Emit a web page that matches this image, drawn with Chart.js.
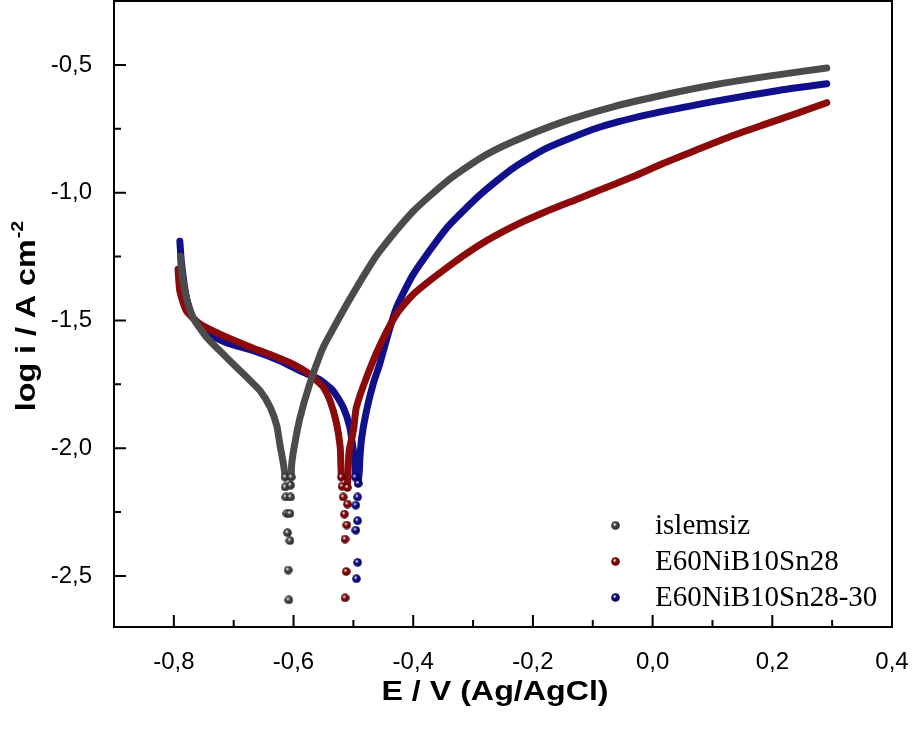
<!DOCTYPE html>
<html>
<head>
<meta charset="utf-8">
<script src="https://cdn.jsdelivr.net/npm/chart.js@4.4.0/dist/chart.umd.min.js"></script>
<style>
  html, body { margin: 0; padding: 0; background: #fff; }
</style>
</head>
<body>
<canvas id="tafel" width="915" height="729"></canvas>
<script>
// series names and colours
var series_names = ['islemsiz', 'E60NiB10Sn28', 'E60NiB10Sn28-30'];
var series_colors = ['#4b4b4b', '#8c0a0a', '#10108c'];
var series_dark = ['#222222', '#4a0000', '#000050'];

// tick labels
var x_ticks = [-0.8, -0.6, -0.4, -0.2, 0.0, 0.2, 0.4];
var x_minor = [-0.7, -0.5, -0.3, -0.1, 0.1, 0.3];
var y_ticks = [-2.5, -2.0, -1.5, -1.0, -0.5];
var y_minor = [-2.25, -1.75, -1.25, -0.75];

// islemsiz
var islemsiz_E = [-0.789, -0.787, -0.779, -0.768, -0.745, -0.712, -0.678, -0.656, -0.639, -0.628, -0.623, -0.617, -0.614,
  -0.614, -0.613, -0.611, -0.610, -0.609, -0.608, -0.606, -0.606, -0.605, -0.605,
  -0.604, -0.603, -0.598, -0.589, -0.573, -0.553, -0.545, -0.511, -0.478, -0.456, -0.400, -0.344, -0.288, -0.233,
  -0.149, -0.066, 0.018, 0.101, 0.185, 0.291];
var islemsiz_logi = [-1.249, -1.307, -1.411, -1.489, -1.567, -1.645, -1.723, -1.775, -1.840, -1.912, -1.983, -2.061, -2.113,
  -2.152, -2.191, -2.256, -2.331, -2.477, -2.594, -2.362, -2.256, -2.191, -2.145,
  -2.113, -2.061, -1.983, -1.879, -1.749, -1.619, -1.580, -1.437, -1.307, -1.229, -1.073, -0.956, -0.865, -0.800,
  -0.722, -0.664, -0.618, -0.579, -0.547, -0.512];

// E60NiB10Sn28
var sn28_E = [-0.793, -0.790, -0.779, -0.756, -0.723, -0.678, -0.656, -0.634, -0.601, -0.573, -0.561, -0.550, -0.539, -0.528, -0.522, -0.521, -0.520,
  -0.519, -0.517, -0.515, -0.514, -0.514, -0.512, -0.511, -0.510, -0.510,
  -0.509, -0.507, -0.500, -0.495, -0.478, -0.456, -0.428, -0.400, -0.344, -0.288, -0.233, -0.177, -0.121, -0.066,
  -0.032, 0.018, 0.073, 0.129, 0.185, 0.241, 0.291];
var sn28_logi = [-1.300, -1.385, -1.463, -1.515, -1.554, -1.599, -1.619, -1.638, -1.671, -1.710, -1.736, -1.762, -1.814, -1.905, -1.996, -2.061, -2.113,
  -2.149, -2.191, -2.258, -2.356, -2.586, -2.483, -2.301, -2.219, -2.154,
  -2.087, -2.009, -1.931, -1.840, -1.723, -1.599, -1.476, -1.398, -1.294, -1.203, -1.132, -1.073, -1.021, -0.969,
  -0.937, -0.885, -0.833, -0.781, -0.735, -0.690, -0.648];

// E60NiB10Sn28-30
var sn28_30_E = [-0.790, -0.787, -0.779, -0.768, -0.740, -0.712, -0.667, -0.623, -0.589, -0.556, -0.534, -0.517, -0.506, -0.500, -0.497,
  -0.497, -0.496, -0.496, -0.495, -0.493, -0.493, -0.493, -0.492,
  -0.490, -0.489, -0.486, -0.478, -0.467, -0.456, -0.442, -0.428, -0.400, -0.344, -0.288, -0.233, -0.177, -0.094,
  -0.010, 0.101, 0.213, 0.291];
var sn28_30_logi = [-1.190, -1.281, -1.411, -1.489, -1.554, -1.587, -1.619, -1.658, -1.697, -1.732, -1.775, -1.840, -1.918, -2.009, -2.074,
  -2.113, -2.223, -2.321, -2.511, -2.447, -2.284, -2.191, -2.138,
  -2.087, -2.035, -1.957, -1.853, -1.749, -1.671, -1.554, -1.450, -1.320, -1.138, -1.008, -0.904, -0.826, -0.748,
  -0.696, -0.644, -0.599, -0.574];

var series_E = [islemsiz_E, sn28_E, sn28_30_E];
var series_logi = [islemsiz_logi, sn28_logi, sn28_30_logi];

var TAIL = -2.1;

function fmt(v) {
  return v.toFixed(1).replace('.', ',');
}

// small shaded ball used as marker
function sphere(color, dark) {
  var c = document.createElement('canvas');
  c.width = 9; c.height = 9;
  var g = c.getContext('2d');
  var grd = g.createRadialGradient(3.4, 3.1, 0.2, 4.5, 4.5, 4.4);
  grd.addColorStop(0, '#ffffff');
  grd.addColorStop(0.4, color);
  grd.addColorStop(1, dark);
  g.fillStyle = grd;
  g.beginPath();
  g.arc(4.5, 4.5, 4.3, 0, Math.PI * 2);
  g.fill();
  return c;
}

var balls = series_colors.map(function (c, i) { return sphere(c, series_dark[i]); });

var datasets = series_names.map(function (name, i) {
  return {
    label: name,
    data: series_E[i].map(function (e, j) { return { x: e, y: series_logi[i][j] }; }),
    showLine: true,
    borderColor: series_colors[i],
    backgroundColor: series_colors[i],
    borderWidth: 7,
    borderCapStyle: 'round',
    borderJoinStyle: 'round',
    tension: 0.2,
    pointStyle: balls[i],
    pointRadius: function (ctx) { return ctx.raw && ctx.raw.y < TAIL ? 4 : 0; },
    pointHoverRadius: 0,
    segment: {
      borderColor: function (ctx) {
        return (ctx.p0.parsed.y < TAIL && ctx.p1.parsed.y < TAIL) ? 'rgba(0,0,0,0)' : undefined;
      }
    }
  };
});

var frameAndText = {
  id: 'frameAndText',
  afterDraw: function (chart) {
    var ctx = chart.ctx;
    var a = chart.chartArea;
    var xs = chart.scales.x, ys = chart.scales.y;
    ctx.save();
    ctx.strokeStyle = '#000';
    ctx.lineWidth = 2;
    ctx.strokeRect(a.left, a.top, a.right - a.left, a.bottom - a.top);
    ctx.beginPath();
    x_ticks.forEach(function (v) {
      var p = xs.getPixelForValue(v);
      ctx.moveTo(p, a.bottom); ctx.lineTo(p, a.bottom - 12);
    });
    x_minor.forEach(function (v) {
      var p = xs.getPixelForValue(v);
      ctx.moveTo(p, a.bottom); ctx.lineTo(p, a.bottom - 7);
    });
    y_ticks.forEach(function (v) {
      var p = ys.getPixelForValue(v);
      ctx.moveTo(a.left, p); ctx.lineTo(a.left + 12, p);
    });
    y_minor.forEach(function (v) {
      var p = ys.getPixelForValue(v);
      ctx.moveTo(a.left, p); ctx.lineTo(a.left + 7, p);
    });
    ctx.stroke();

    // legend
    var ly = [525, 561, 597];
    ctx.fillStyle = '#000';
    ctx.font = '29px "Liberation Serif", "Times New Roman", serif';
    ctx.textBaseline = 'middle';
    ctx.textAlign = 'left';
    chart.data.datasets.forEach(function (ds, i) {
      ctx.drawImage(balls[i], 611, ly[i] - 4);
      ctx.fillText(ds.label, 655, ly[i] + 1);
    });

    // x title
    ctx.save();
    ctx.translate(495, 700);
    ctx.scale(1.15, 1);
    ctx.font = 'bold 28px "Liberation Sans", Arial, sans-serif';
    ctx.textAlign = 'center';
    ctx.textBaseline = 'alphabetic';
    ctx.fillText('E / V (Ag/AgCl)', 0, 0);
    ctx.restore();

    // y title with superscript
    ctx.save();
    ctx.translate(35, 316);
    ctx.rotate(-Math.PI / 2);
    ctx.scale(1.15, 1);
    ctx.textAlign = 'left';
    ctx.textBaseline = 'alphabetic';
    var main = 'log i / A cm', sup = '-2';
    ctx.font = 'bold 28px "Liberation Sans", Arial, sans-serif';
    var w1 = ctx.measureText(main).width;
    ctx.font = 'bold 17px "Liberation Sans", Arial, sans-serif';
    var w2 = ctx.measureText(sup).width;
    var x0 = -(w1 + w2 + 1) / 2;
    ctx.font = 'bold 28px "Liberation Sans", Arial, sans-serif';
    ctx.fillText(main, x0, 0);
    ctx.font = 'bold 17px "Liberation Sans", Arial, sans-serif';
    ctx.fillText(sup, x0 + w1 + 1, -12);
    ctx.restore();

    ctx.restore();
  }
};

var tickFont = { family: '"Liberation Sans", Arial, sans-serif', size: 24 };

var tafel = new Chart(document.getElementById('tafel'), {
  type: 'scatter',
  data: { datasets: datasets },
  options: {
    responsive: false,
    animation: false,
    layout: { padding: { top: 1, right: 23, left: 0, bottom: 0 } },
    plugins: { legend: { display: false }, tooltip: { enabled: false } },
    scales: {
      x: {
        type: 'linear',
        min: -0.9,
        max: 0.4,
        grid: { display: false },
        border: { display: false },
        afterBuildTicks: function (s) { s.ticks = x_ticks.map(function (v) { return { value: v }; }); },
        afterFit: function (s) { s.height = 102; s.paddingLeft = 0; s.paddingRight = 0; },
        ticks: { padding: 13, color: '#000', font: tickFont, maxRotation: 0, autoSkip: false,
          callback: function (v) { return fmt(v); } }
      },
      y: {
        type: 'linear',
        min: -2.7,
        max: -0.25,
        grid: { display: false },
        border: { display: false },
        afterBuildTicks: function (s) { s.ticks = y_ticks.map(function (v) { return { value: v }; }); },
        afterFit: function (s) { s.width = 114; s.paddingTop = 0; s.paddingBottom = 0; },
        ticks: { padding: 14, color: '#000', font: tickFont, autoSkip: false,
          callback: function (v) { return fmt(v); } }
      }
    }
  },
  plugins: [frameAndText]
});
</script>
</body>
</html>
